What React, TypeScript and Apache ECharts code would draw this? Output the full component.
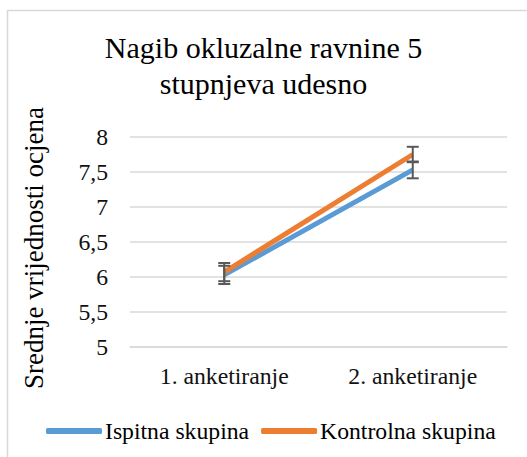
import React, { useEffect, useRef } from "react";
import * as echarts from "echarts";

const categories = ["1. anketiranje", "2. anketiranje"];
const ispitna = [6.03, 7.53];
const kontrolna = [6.07, 7.75];
const ispitnaErr = [0.13, 0.12];
const kontrolnaErr = [0.13, 0.11];
const yTicks = [5, 5.5, 6, 6.5, 7, 7.5, 8];
const yAxisTitle = "Srednje vrijednosti ocjena";

const FONT = "Liberation Serif";

function errSeries(name: string, values: number[], errs: number[]) {
  return {
    type: "custom",
    name: name + " err",
    z: 10,
    data: values.map((v, i) => [i, v - errs[i], v + errs[i]]),
    renderItem: (params: any, api: any) => {
      const x = api.value(0);
      const lo = api.coord([x, api.value(1)]);
      const hi = api.coord([x, api.value(2)]);
      const w = 6;
      const style = { stroke: "#595959", lineWidth: 2 };
      return {
        type: "group",
        children: [
          { type: "line", shape: { x1: lo[0], y1: lo[1], x2: hi[0], y2: hi[1] }, style },
          { type: "line", shape: { x1: lo[0] - w, y1: lo[1], x2: lo[0] + w, y2: lo[1] }, style },
          { type: "line", shape: { x1: hi[0] - w, y1: hi[1], x2: hi[0] + w, y2: hi[1] }, style },
        ],
      };
    },
  };
}

export default function App() {
  const ref = useRef<HTMLDivElement>(null);
  useEffect(() => {
    if (!ref.current) return;
    const chart = echarts.init(ref.current, undefined, { renderer: "svg" });
    chart.setOption({
      animation: false,
      backgroundColor: "#fff",
      textStyle: { fontFamily: FONT },
      graphic: [
        {
          type: "polyline",
          shape: { points: [[7.5, 460], [7.5, 10.5], [530, 10.5]] },
          style: { stroke: "#d9d9d9", lineWidth: 1.5, fill: "none" },
        },
        {
          type: "text",
          x: 34,
          y: 248,
          rotation: Math.PI / 2,
          style: {
            text: yAxisTitle,
            fontFamily: FONT,
            fontSize: 27,
            fill: "#000",
            align: "center",
            verticalAlign: "middle",
          },
        },
      ],
      title: {
        text: "Nagib okluzalne ravnine 5\nstupnjeva udesno",
        left: "center",
        top: 24,
        textStyle: { fontFamily: FONT, fontSize: 30, fontWeight: "normal", color: "#000", lineHeight: 36 },
      },
      legend: {
        top: 419,
        left: 46,
        padding: 0,
        itemWidth: 56,
        itemHeight: 6,
        itemGap: 12,
        icon: "roundRect",
        data: ["Ispitna skupina", "Kontrolna skupina"],
        textStyle: { fontFamily: FONT, fontSize: 23.7, color: "#000", padding: [0, 0, 0, -2] },
      },
      grid: { left: 130, right: 20, top: 137, bottom: 110 },
      xAxis: {
        type: "category",
        data: categories,
        boundaryGap: true,
        axisLine: { lineStyle: { color: "#d9d9d9", width: 1.5 } },
        axisTick: { show: false },
        axisLabel: { fontFamily: FONT, fontSize: 23.7, color: "#111", margin: 17 },
      },
      yAxis: {
        type: "value",
        min: 5,
        max: 8,
        interval: 0.5,
        axisLine: { show: false },
        axisTick: { show: false },
        splitLine: { lineStyle: { color: "#d9d9d9", width: 1.5 } },
        axisLabel: {
          fontFamily: FONT,
          fontSize: 23.7,
          color: "#111",
          margin: 22,
          formatter: (v: number) => (yTicks.includes(v) ? String(v).replace(".", ",") : ""),
        },
      },
      series: [
        {
          name: "Ispitna skupina",
          type: "line",
          data: ispitna,
          symbol: "none",
          lineStyle: { width: 5, color: "#5B9BD5" },
          itemStyle: { color: "#5B9BD5" },
          z: 3,
        },
        {
          name: "Kontrolna skupina",
          type: "line",
          data: kontrolna,
          symbol: "none",
          lineStyle: { width: 5, color: "#ED7D31" },
          itemStyle: { color: "#ED7D31" },
          z: 4,
        },
        errSeries("Ispitna skupina", ispitna, ispitnaErr),
        errSeries("Kontrolna skupina", kontrolna, kontrolnaErr),
      ],
    });
    return () => chart.dispose();
  }, []);
  return <div ref={ref} style={{ position: "absolute", left: 0, top: 0, width: 527, height: 457 }} />;
}
